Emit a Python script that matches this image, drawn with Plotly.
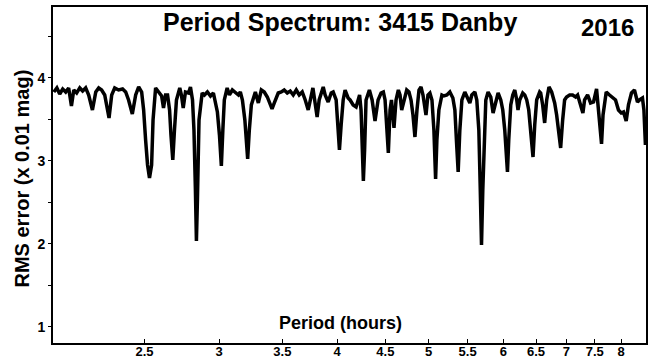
import plotly.graph_objects as go

# Period (hours) and RMS error (x 0.01 mag)
period = [
    2.004, 2.019, 2.033, 2.048, 2.063, 2.078, 2.092, 2.104, 2.119, 2.135,
    2.150, 2.166, 2.182, 2.202, 2.220, 2.236, 2.252, 2.269, 2.293, 2.308,
    2.325, 2.347, 2.370, 2.388, 2.405, 2.427, 2.447, 2.465, 2.483, 2.495,
    2.507, 2.519, 2.531,
    2.544, 2.553, 2.569, 2.588, 2.607, 2.619, 2.632, 2.645, 2.658, 2.667,
    2.679, 2.690, 2.703, 2.725, 2.736, 2.748, 2.763, 2.784, 2.797, 2.811,
    2.821, 2.831, 2.838, 2.845, 2.856, 2.878, 2.894, 2.915, 2.937, 2.958,
    2.973, 2.987, 3.002, 3.016, 3.027, 3.038, 3.059, 3.076, 3.098, 3.121,
    3.144, 3.159, 3.175, 3.194, 3.216,
    3.229, 3.245, 3.277, 3.301, 3.325, 3.349, 3.374, 3.413, 3.432, 3.465,
    3.491, 3.516, 3.542, 3.568, 3.594, 3.621, 3.647, 3.674, 3.701, 3.728,
    3.771, 3.792, 3.810, 3.829, 3.867, 3.885, 3.914, 3.943, 3.962, 3.991,
    4.006, 4.023, 4.040, 4.060,
    4.079, 4.109, 4.129, 4.160, 4.190, 4.211, 4.226, 4.241, 4.252, 4.265,
    4.278, 4.293, 4.328, 4.357, 4.388, 4.421, 4.453, 4.478, 4.497, 4.513,
    4.533, 4.552, 4.568, 4.596, 4.619, 4.645, 4.664, 4.683, 4.710, 4.741,
    4.767, 4.791, 4.814, 4.837, 4.861, 4.885, 4.909, 4.933, 4.969, 4.993,
    5.017, 5.042, 5.066, 5.087, 5.103, 5.128, 5.166,
    5.191, 5.229, 5.267, 5.306, 5.332, 5.352, 5.375, 5.397, 5.424, 5.463,
    5.503, 5.530, 5.557, 5.598, 5.625, 5.653, 5.673, 5.690, 5.708, 5.729,
    5.750, 5.782, 5.820, 5.853, 5.892, 5.925, 5.964, 5.993, 6.022, 6.044,
    6.062, 6.081, 6.111, 6.141, 6.171, 6.201, 6.220, 6.246, 6.292, 6.323,
    6.354, 6.385, 6.416, 6.452, 6.479, 6.510, 6.558,
    6.574, 6.606, 6.638, 6.671, 6.708, 6.752, 6.802, 6.835, 6.868, 6.902,
    6.936, 6.969, 7.003, 7.055, 7.106, 7.159, 7.194, 7.246, 7.287, 7.317,
    7.371, 7.425, 7.479, 7.534, 7.571, 7.598, 7.626, 7.654, 7.714, 7.776,
    7.833, 7.891, 7.948, 8.001, 8.046, 8.099, 8.144, 8.204, 8.264, 8.325,
    8.365, 8.427, 8.457, 8.488,
]

rms = [
    3.831, 3.880, 3.807, 3.867, 3.831, 3.880, 3.663, 3.855, 3.819, 3.880,
    3.843, 3.880, 3.795, 3.614, 3.831, 3.880, 3.855, 3.795, 3.518, 3.795,
    3.880, 3.855, 3.867, 3.831, 3.735, 3.566, 3.795, 3.892, 3.831, 3.614,
    3.253, 2.952, 2.795,
    2.952, 3.494, 3.880, 3.831, 3.783, 3.639, 3.795, 3.795, 3.614, 3.313,
    3.012, 3.373, 3.735, 3.880, 3.795, 3.639, 3.831, 3.819, 3.892, 3.735,
    3.373, 2.651, 2.036, 2.530, 3.494, 3.819, 3.795, 3.831, 3.783, 3.819,
    3.675, 3.590, 3.313, 2.940, 3.373, 3.735, 3.880, 3.795, 3.855, 3.831,
    3.795, 3.831, 3.735, 3.494, 3.024,
    3.373, 3.675, 3.831, 3.699, 3.855, 3.831, 3.771, 3.627, 3.699, 3.819,
    3.831, 3.855, 3.819, 3.843, 3.795, 3.855, 3.795, 3.831, 3.735, 3.614,
    3.880, 3.675, 3.530, 3.735, 3.892, 3.795, 3.711, 3.819, 3.831, 3.735,
    3.494, 3.133, 3.434, 3.735,
    3.855, 3.759, 3.735, 3.675, 3.651, 3.735, 3.795, 3.614, 3.253, 2.759,
    3.133, 3.735, 3.855, 3.735, 3.482, 3.735, 3.819, 3.831, 3.735, 3.494,
    3.096, 3.614, 3.735, 3.398, 3.735, 3.855, 3.795, 3.614, 3.735, 3.855,
    3.831, 3.735, 3.554, 3.289, 3.614, 3.855, 3.892, 3.795, 3.554, 3.795,
    3.819, 3.735, 3.373, 2.783, 3.253, 3.614, 3.795,
    3.783, 3.795, 3.831, 3.759, 3.614, 3.253, 2.867, 3.373, 3.735, 3.831,
    3.735, 3.699, 3.795, 3.831, 3.735, 3.373, 2.651, 1.988, 2.651, 3.373,
    3.735, 3.831, 3.771, 3.578, 3.735, 3.819, 3.735, 3.614, 3.373, 3.012,
    2.867, 3.253, 3.675, 3.795, 3.855, 3.735, 3.614, 3.735, 3.819, 3.795,
    3.735, 3.614, 3.373, 3.048, 3.434, 3.735, 3.831,
    3.819, 3.675, 3.458, 3.735, 3.892, 3.831, 3.699, 3.554, 3.373, 3.157,
    3.494, 3.735, 3.771, 3.795, 3.795, 3.771, 3.795, 3.675, 3.578, 3.735,
    3.795, 3.699, 3.711, 3.867, 3.614, 3.373, 3.205, 3.554, 3.831, 3.795,
    3.759, 3.735, 3.614, 3.578, 3.590, 3.482, 3.675, 3.819, 3.855, 3.711,
    3.735, 3.759, 3.614, 3.193,
]

x_ticks = [2.5, 3, 3.5, 4, 4.5, 5, 5.5, 6, 6.5, 7, 7.5, 8]
y_ticks = [1, 2, 3, 4]

FONT = "Liberation Sans, Arial, sans-serif"

fig = go.Figure()
fig.add_trace(go.Scatter(
    x=period, y=rms, mode="lines",
    line=dict(color="black", width=3.5),
    hoverinfo="skip", showlegend=False,
))

fig.update_layout(
    width=652, height=362,
    margin=dict(l=53, r=6, t=7, b=19),
    paper_bgcolor="white", plot_bgcolor="white",
    font=dict(family=FONT, color="black"),
    showlegend=False,
)

fig.update_xaxes(
    type="log", range=[0.30103, 0.92942], automargin=False,
    tickvals=x_ticks, ticktext=[str(v) for v in x_ticks],
    tickfont=dict(size=13, family=FONT, weight="bold"),
    ticks="inside", ticklen=4, tickwidth=1, tickcolor="black",
    ticklabelstandoff=-5,
    showline=True, linecolor="black", linewidth=2, mirror=True,
    showgrid=False, zeroline=False,
)
fig.update_yaxes(
    range=[0.807, 4.855], automargin=False,
    tickvals=y_ticks,
    tickfont=dict(size=14, family=FONT, weight="bold"),
    ticks="outside", ticklen=3, tickwidth=1, tickcolor="black",
    minor=dict(tickvals=[1.5, 2.5, 3.5, 4.5], ticks="outside", ticklen=3, tickcolor="black"),
    showline=True, linecolor="black", linewidth=2, mirror=True,
    showgrid=False, zeroline=False,
)

fig.add_annotation(
    text="RMS error (x 0.01 mag)", xref="paper", yref="paper",
    x=-0.052, y=0.49, xanchor="center", yanchor="middle", textangle=-90,
    showarrow=False, font=dict(size=20, family=FONT, weight="bold"),
)
fig.add_annotation(
    text="Period Spectrum: 3415 Danby", xref="paper", yref="paper",
    x=0.484, y=0.955, xanchor="center", yanchor="middle", showarrow=False,
    font=dict(size=25, family=FONT, weight="bold"),
)
fig.add_annotation(
    text="2016", xref="paper", yref="paper",
    x=0.983, y=0.94, xanchor="right", yanchor="middle", showarrow=False,
    font=dict(size=24, family=FONT, weight="bold"),
)
fig.add_annotation(
    text="Period (hours)", xref="paper", yref="paper",
    x=0.484, y=0.06, xanchor="center", yanchor="middle", showarrow=False,
    font=dict(size=18, family=FONT, weight="bold"),
)

fig.write_html("out.html")
